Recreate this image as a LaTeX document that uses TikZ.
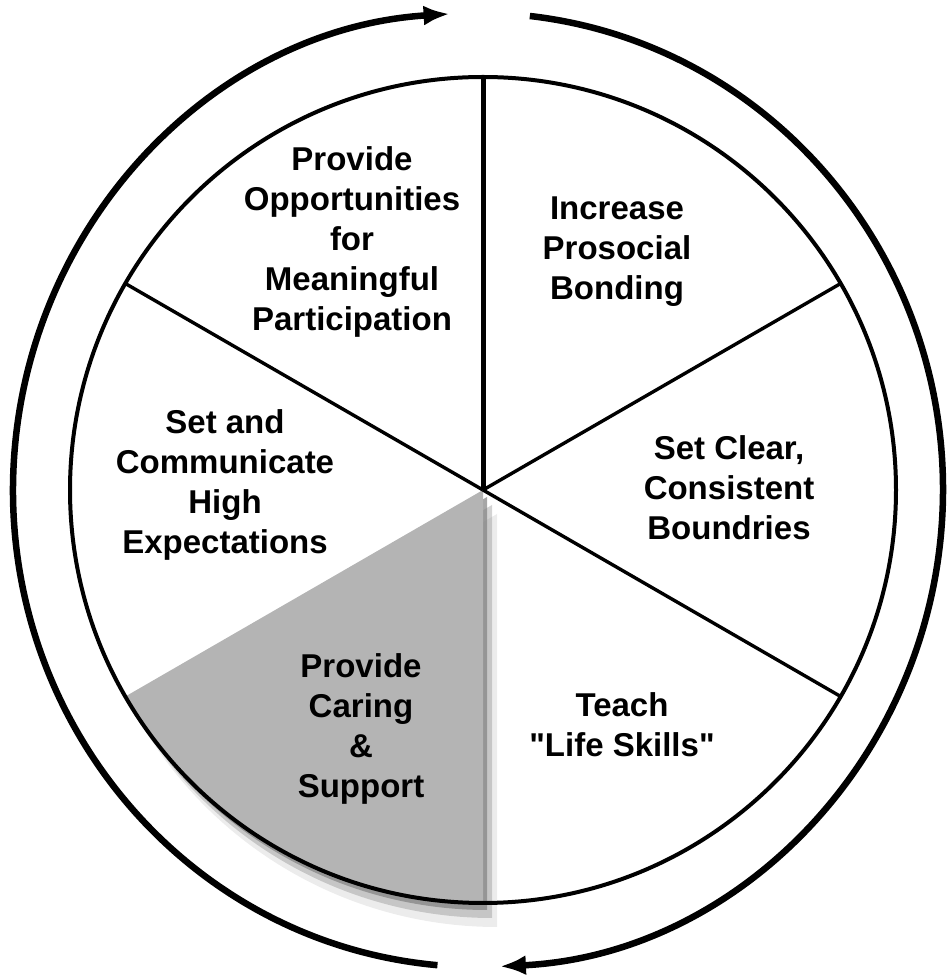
\documentclass[tikz,border=0pt]{standalone}
\usepackage{fontspec}
\setmainfont{Liberation Sans}
\usetikzlibrary{arrows.meta, shadows}

\begin{document}
\begin{tikzpicture}[x=1pt, y=1pt,
  rim/.style = {line width=6.5pt, -{Latex[length=26pt,width=20pt]}},
  wheel/.style = {line width=4pt},
  spoke/.style = {line width=3.4pt},
  txt/.style = {align=center, inner sep=0pt, font=\fontsize{33}{40}\selectfont\bfseries},
  caring fill/.style = {fill={rgb,255:red,180;green,180;blue,180},
    drop shadow={shadow xshift=14pt, shadow yshift=-24pt, opacity=.15},
    drop shadow={shadow xshift=9pt, shadow yshift=-15pt, opacity=.35},
    drop shadow={shadow xshift=4pt, shadow yshift=-7pt, opacity=.7}}]
\useasboundingbox (0,0) rectangle (946,975);
\coordinate (hub) at (483,485);
\coordinate (mid) at (478,485);
\fill[caring fill] (hub) -- ++(210:413) arc[start angle=210, end angle=270, radius=413] -- cycle;
\draw[wheel] (hub) circle[radius=413];
\foreach \a in {30,-30,150}
  \draw[spoke] (hub) -- ++(\a:413);
\draw[spoke, line width=5pt] (hub) -- ++(90:413);
\draw[rim] (mid) ++(265:465 and 477) arc[start angle=265, end angle=93.5, x radius=465, y radius=477];
\draw[rim] (mid) ++(83.6:465 and 477) arc[start angle=83.6, end angle=-87.3, x radius=465, y radius=477];
\node[txt] (meaning) at (352,733) {Provide\\Opportunities\\for\\Meaningful\\Participation};
\node[txt] (bonding) at (617,723) {Increase\\Prosocial\\Bonding};
\node[txt] (expect) at (225,490) {Set and\\Communicate\\High\\Expectations};
\node[txt] (bounds) at (729,487) {Set Clear,\\Consistent\\Boundries};
\node[txt] (skills) at (622,250) {Teach\\\textquotedbl Life Skills\textquotedbl};
\node[txt] (caring) at (361,246) {Provide\\Caring\\\&\\Support};
\end{tikzpicture}
\end{document}
